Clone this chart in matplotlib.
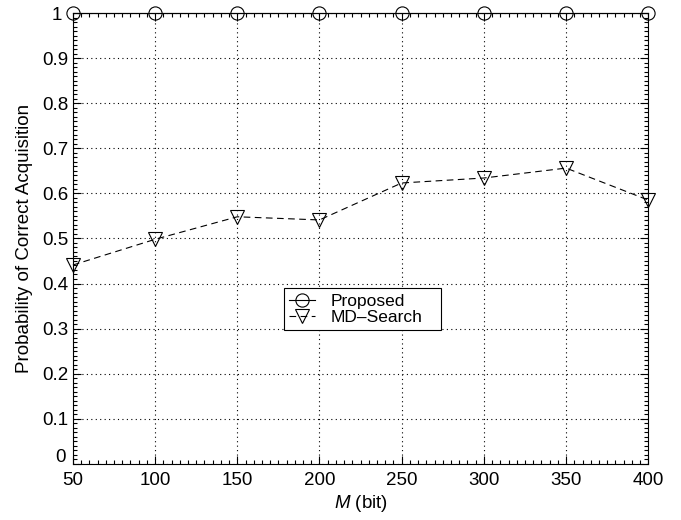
import numpy as np
import matplotlib
matplotlib.use('Agg')
import matplotlib.pyplot as plt
import matplotlib.transforms as mtransforms
from matplotlib.legend_handler import HandlerLine2D
from matplotlib.ticker import MultipleLocator, AutoMinorLocator

plt.rcParams['font.family'] = ['Liberation Sans', 'DejaVu Sans']
plt.rcParams['mathtext.fontset'] = 'custom'
plt.rcParams['mathtext.it'] = 'Liberation Sans:italic'

# data
m_bits = [50, 100, 150, 200, 250, 300, 350, 400]
proposed = [1.0, 1.0, 1.0, 1.0, 1.0, 1.0, 1.0, 1.0]
md_search = [0.441, 0.498, 0.548, 0.541, 0.623, 0.634, 0.656, 0.585]
y_ticks = [0, 0.1, 0.2, 0.3, 0.4, 0.5, 0.6, 0.7, 0.8, 0.9, 1]
y_labels = ['0', '0.1', '0.2', '0.3', '0.4', '0.5', '0.6', '0.7', '0.8', '0.9', '1']


class RightMarker(HandlerLine2D):
    # matlab legend: short line with the marker near its right end
    def get_xdata(self, legend, xdescent, ydescent, width, height, fontsize):
        xdata = np.array([-xdescent, -xdescent + width])
        return xdata, np.array([-xdescent + 0.72 * width])


fig = plt.figure(figsize=(6.81, 5.2), dpi=100)
ax = fig.add_axes([0.107, 0.108, 0.845, 0.867])

ax.plot(m_bits, proposed, '-', color='black', lw=0.8, marker='o',
        markersize=9.5, markerfacecolor='none', markeredgewidth=0.8,
        label='Proposed', clip_on=False, zorder=3)
ax.plot(m_bits, md_search, '--', color='black', lw=0.8, marker='v',
        markersize=10, markerfacecolor='none', markeredgewidth=0.8,
        dashes=(6, 4), label='MD\u2013Search', clip_on=False, zorder=3)

ax.set_xlim(50, 400)
ax.set_ylim(0, 1)
ax.xaxis.set_major_locator(MultipleLocator(50))
ax.xaxis.set_minor_locator(AutoMinorLocator(10))
ax.set_yticks(y_ticks)
ax.set_yticklabels(y_labels)
ax.yaxis.set_minor_locator(AutoMinorLocator(10))

ax.tick_params(which='both', direction='in', top=True, right=True,
               labelsize=13.5, width=0.8)
ax.tick_params(which='major', length=6, pad=3)
ax.tick_params(which='minor', length=3)
ax.tick_params(axis='x', which='major', pad=6)
ax.grid(True, which='major', linestyle=(0, (1, 3)), color='black', lw=0.8)
for s in ax.spines.values():
    s.set_linewidth(0.8)

# matlab-like nudges: '1' clear of the marker, '0' lifted above the '50'
ylabs = ax.get_yticklabels()
ylabs[-1].set_transform(ylabs[-1].get_transform() +
                        mtransforms.ScaledTranslation(-5 / 72, 0, fig.dpi_scale_trans))
ylabs[0].set_transform(ylabs[0].get_transform() +
                       mtransforms.ScaledTranslation(-2 / 72, 6 / 72, fig.dpi_scale_trans))

ax.set_xlabel(r'$M$ (bit)', fontsize=13.5, labelpad=3)
ax.set_ylabel('Probability of Correct Acquisition', fontsize=13.5, labelpad=7)

leg = ax.legend(loc='lower left', bbox_to_anchor=(0.367, 0.297, 0.273, 0.1),
                mode='expand', fontsize=12.5, handlelength=1.5, handletextpad=0.9,
                borderpad=0.3, labelspacing=0.05, fancybox=False,
                framealpha=1, edgecolor='black', borderaxespad=0,
                handler_map={matplotlib.lines.Line2D: RightMarker()})
leg.get_frame().set_linewidth(0.8)

fig.savefig('out.png', dpi=100)
